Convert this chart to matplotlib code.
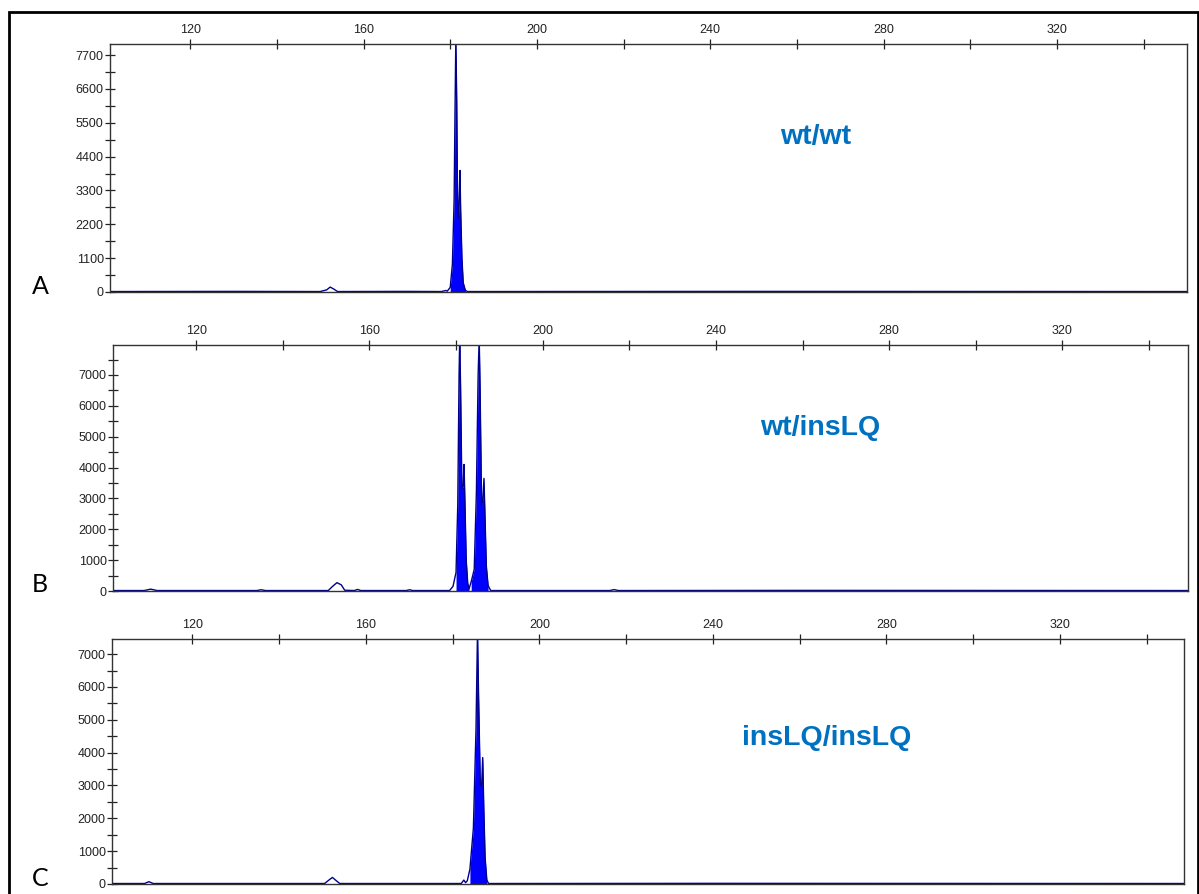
import matplotlib
matplotlib.use("Agg")
import matplotlib.pyplot as plt
from matplotlib.patches import Rectangle
from matplotlib.ticker import MultipleLocator, FuncFormatter

plt.rcParams["font.family"] = ["Liberation Sans", "DejaVu Sans"]

# ---- data (size in bp, signal in RFU) ----
size_a = [101.5, 130, 150, 151.5, 152.3, 153.2, 154, 170, 178, 179, 179.3,
          180.0, 180.5, 180.9, 181.1, 181.3, 181.5, 181.7, 181.9, 182.1,
          182.25, 182.4, 182.7, 183.0, 183.5, 184, 250, 350]
signal_a = [15, 20, 15, 70, 160, 90, 15, 20, 15, 50, 25,
            150, 900, 3000, 5800, 8300, 6200, 2900, 2400, 3200,
            3950, 2700, 1100, 300, 50, 15, 20, 15]

size_b = [101, 108, 109.5, 111, 134, 135, 136, 150.5, 151.5, 152.5, 153.5,
          154.3, 156.5, 157.3, 158, 168.5, 169.3, 170, 178.5, 179.3,
          180.0, 180.4, 180.7, 180.85, 181.05, 181.35, 181.65, 181.85, 182.05,
          182.35, 182.7, 183.0, 183.5, 184.2, 184.7, 185.1, 185.35, 185.55,
          185.9, 186.2, 186.45, 186.65, 187.0, 187.4, 188, 215.5, 216.5,
          217.5, 260, 349]
signal_b = [15, 15, 60, 15, 15, 40, 15, 15, 150, 270, 200,
            25, 15, 50, 15, 15, 40, 15, 15, 150,
            600, 2800, 7000, 8200, 6600, 3300, 3400, 4100, 2900,
            1000, 250, 70, 300, 700, 3200, 7000, 8200, 6600,
            2800, 3000, 3650, 2600, 800, 180, 15, 15, 45,
            15, 20, 15]

size_c = [101.5, 109, 110, 111, 150.5, 151.5, 152.3, 153.2, 154, 182,
          182.6, 183, 183.4, 184, 184.8, 185.4, 185.75, 186.0, 186.4,
          186.7, 186.95, 187.2, 187.5, 187.9, 188.3, 240, 348.6]
signal_c = [15, 15, 70, 15, 15, 120, 200, 100, 15, 15,
            120, 40, 100, 450, 1700, 4700, 7700, 5700, 3000,
            3000, 3850, 2300, 800, 120, 15, 20, 15]

# called peak regions (drawn filled)
filled_a = [(179.8, 183.6)]
filled_b = [(179.6, 183.2), (183.2, 187.8)]
filled_c = [(183.8, 188.2)]

genotypes = ["wt/wt", "wt/insLQ", "insLQ/insLQ"]
panel_letters = ["A", "B", "C"]

# ---- layout ----
W, H = 1199, 894
fig = plt.figure(figsize=(W / 100, H / 100), dpi=100, facecolor="white")

panels = [
    dict(box=(110, 44, 1187, 292), x=size_a, y=signal_a, fill=filled_a,
         xlim=(101.5, 350.0), ylim=(0, 8060), ymaj=1100, ymin=550,
         text_xy=(816, 137), letter_xy=(40, 287)),
    dict(box=(113, 345, 1188, 591), x=size_b, y=signal_b, fill=filled_b,
         xlim=(100.8, 349.0), ylim=(0, 7970), ymaj=1000, ymin=500,
         text_xy=(820, 428), letter_xy=(40, 584)),
    dict(box=(112, 639, 1184, 884), x=size_c, y=signal_c, fill=filled_c,
         xlim=(101.5, 348.6), ylim=(0, 7460), ymaj=1000, ymin=500,
         text_xy=(827, 738), letter_xy=(40, 879)),
]

for i, p in enumerate(panels):
    l, t, r, b = p["box"]
    ax = fig.add_axes([l / W, 1 - b / H, (r - l) / W, (b - t) / H])
    x, y = p["x"], p["y"]
    for lo, hi in p["fill"]:
        mask = [lo <= v <= hi for v in x]
        ax.fill_between(x, y, 0, where=mask, color="#0000ff", lw=0)
    ax.plot(x, y, color="#00008b", lw=1.0)

    ax.set_xlim(*p["xlim"])
    ax.set_ylim(*p["ylim"])

    # x axis on top, ticks every 20, labels every 40
    ax.xaxis.set_major_locator(MultipleLocator(20))
    ax.xaxis.set_major_formatter(
        FuncFormatter(lambda v, pos: "%d" % v if int(round(v)) % 40 == 0 else ""))
    ax.tick_params(axis="x", top=True, bottom=False, labeltop=True,
                   labelbottom=False, direction="inout", length=7, width=0.9,
                   labelsize=9, pad=2, colors="#222222")

    step = p["ymaj"]
    ax.yaxis.set_major_locator(MultipleLocator(p["ymin"]))
    ax.yaxis.set_major_formatter(
        FuncFormatter(lambda v, pos, s=step: "%d" % v if int(round(v)) % s == 0 else ""))
    ax.tick_params(axis="y", direction="inout", length=7, width=0.9,
                   labelsize=9, pad=1, colors="#222222")

    for sp in ax.spines.values():
        sp.set_color("#333333")
        sp.set_linewidth(1.0)

    fig.text(p["text_xy"][0] / W, 1 - p["text_xy"][1] / H, genotypes[i],
             color="#0070c0", fontsize=20.5, fontweight="bold",
             ha="center", va="center")
    fig.text(p["letter_xy"][0] / W, 1 - p["letter_xy"][1] / H, panel_letters[i],
             color="black", fontsize=18, family="Lato",
             ha="center", va="center")

# outer frame (bottom edge runs off the picture)
fig.patches.append(Rectangle((9 / W, -0.02), (1198 - 9) / W, 0.02 + 1 - 12 / H,
                             transform=fig.transFigure, fill=False,
                             edgecolor="black", lw=2))

fig.savefig("out.png", dpi=100, facecolor="white")
